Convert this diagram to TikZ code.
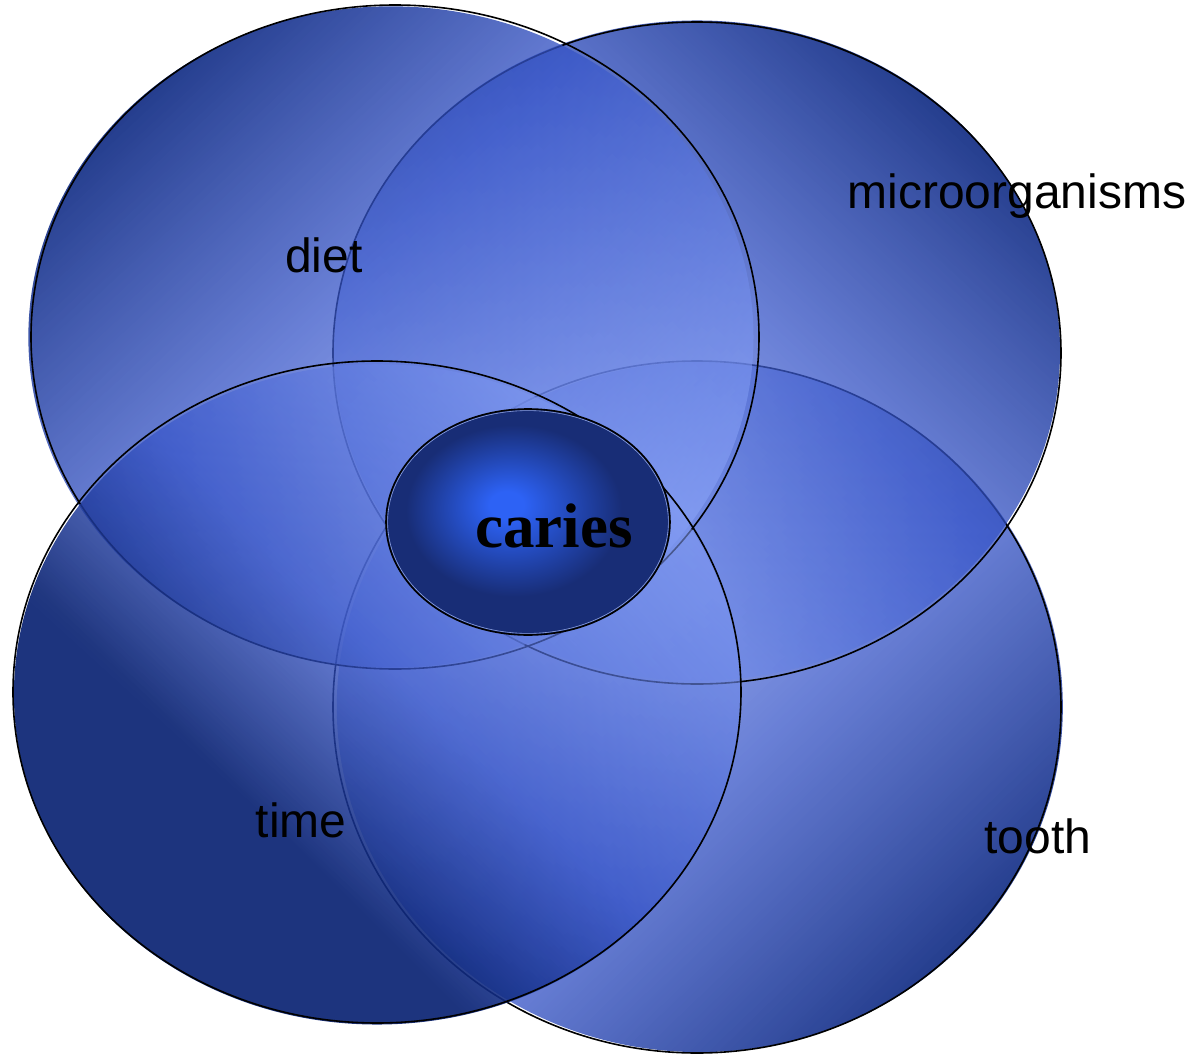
\documentclass[tikz,border=0pt]{standalone}
\usepackage{fontspec}
\setmainfont{Liberation Sans}
\newfontfamily\cariesfont{Liberation Serif}
\usetikzlibrary{shapes.geometric,fadings}
\definecolor{petaldark}{RGB}{18,45,132}
\definecolor{duskdark}{RGB}{10,35,115}
\definecolor{petalmid}{RGB}{55,85,200}
\definecolor{petallight}{RGB}{140,165,250}
\definecolor{glowcore}{RGB}{45,98,245}
\definecolor{glowrim}{RGB}{24,45,118}
\definecolor{glint}{RGB}{170,190,250}
% diagonal petals
\pgfdeclarehorizontalshading{petalshade}{100bp}{color(0bp)=(petaldark); color(25bp)=(petaldark);
  color(45bp)=(petalmid); color(75bp)=(petallight); color(100bp)=(petallight)}
\pgfdeclarehorizontalshading{petalmask}{100bp}{color(0bp)=(pgftransparent!8); color(25bp)=(pgftransparent!8);
  color(45bp)=(pgftransparent!25); color(75bp)=(pgftransparent!45); color(100bp)=(pgftransparent!45)}
\pgfdeclarefading{petalfade}{\pgfuseshading{petalmask}}
% time: darker, light reached later
\pgfdeclarehorizontalshading{duskshade}{100bp}{color(0bp)=(duskdark); color(38bp)=(duskdark);
  color(52bp)=(petalmid); color(78bp)=(petallight); color(100bp)=(petallight)}
\pgfdeclarehorizontalshading{duskmask}{100bp}{color(0bp)=(pgftransparent!8); color(38bp)=(pgftransparent!8);
  color(52bp)=(pgftransparent!25); color(78bp)=(pgftransparent!45); color(100bp)=(pgftransparent!45)}
\pgfdeclarefading{duskfade}{\pgfuseshading{duskmask}}
\pgfdeclareradialshading{glowshade}{\pgfpoint{-4bp}{4bp}}{color(0bp)=(glowcore); color(3bp)=(glowcore);
  color(19bp)=(glowrim); color(50bp)=(glowrim)}
\tikzset{
  petal/.style 2 args = {ellipse, draw=black, line width=0.8pt, inner sep=0pt, outer sep=0pt,
                   minimum width=364pt,
                   preaction={shade, shading=#2shade, shading angle=#1,
                              path fading=#2fade, fading angle=#1}},
  core/.style   = {ellipse, shade, shading=glowshade, draw=black, line width=0.8pt,
                   inner sep=0pt, outer sep=0pt, minimum width=142pt, minimum height=113pt},
  factor/.style = {inner sep=0pt, anchor=base, font=\fontsize{24}{28}\selectfont},
}
\begin{document}
\begin{tikzpicture}[x=0.5pt, y=-0.5pt]
  \useasboundingbox (0,0) rectangle (1196,1055);

  % the four factors, bottom to top
  \node[petal={135}{petal}, minimum height=346pt] (tooth) at (697,707) {};
  \node[petal={225}{petal}, minimum height=331pt] (micro) at (697,353) {};
  \node[petal={-45}{petal}, minimum height=332pt] (diet)  at (395,337) {};
  \node[petal={45}{dusk},   minimum height=331pt] (time)  at (377,692) {};

  % overlap
  \node[core] (caries) at (528,522) {};
  \draw[glint, line width=0.3pt, opacity=0.8] (caries.center) ellipse [x radius=70.2pt, y radius=55.7pt];

  \node[factor] (ldiet)  at (324,272)  {diet};
  \node[factor] (lmicro) at (1017,208) {microorganisms};
  \node[factor] (ltime)  at (301,837)  {time};
  \node[factor] (ltooth) at (1038,853) {tooth};
  \node[inner sep=0pt, anchor=base, font=\cariesfont\bfseries\fontsize{31.5}{36}\selectfont]
       (lcaries) at (554,547) {caries};

\end{tikzpicture}
\end{document}
